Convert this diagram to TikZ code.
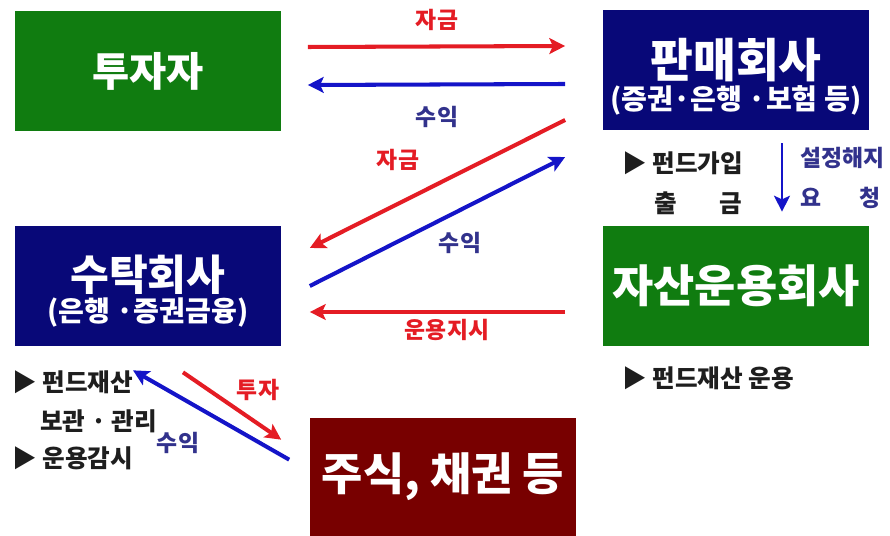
\documentclass[tikz,border=0pt]{standalone}
\usepackage{fontspec}
\newfontfamily\kr{Noto Sans CJK KR}
\usetikzlibrary{arrows.meta}
\definecolor{boxgreen}{RGB}{16,124,16}
\definecolor{boxnavy}{RGB}{8,8,120}
\definecolor{boxred}{RGB}{120,0,0}
\definecolor{arrred}{RGB}{228,28,36}
\definecolor{arrblue}{RGB}{20,20,200}
\definecolor{lblblue}{RGB}{50,50,140}
\definecolor{txtgray}{RGB}{30,30,30}
\newcommand\subtxt{\fontsize{16}{18}\selectfont}
\newcommand\titlesize[1]{\fontsize{#1}{26}\selectfont}
\tikzset{
	box/.style={minimum width=5.34cm, minimum height=2.4cm, inner sep=0pt, text=white, align=center, font=\kr\bfseries\titlesize{24}},
	flow/.style={line width=2.3pt, -{Stealth[length=9pt,width=9pt,inset=2pt]}},
	lbl/.style={font=\kr\bfseries\fontsize{13}{15}\selectfont},
	note/.style={font=\kr\bfseries\fontsize{14}{16}\selectfont, text=txtgray, anchor=west, inner sep=0pt}
}
\begin{document}
\begin{tikzpicture}[x=0.02cm, y=-0.02cm]
		\useasboundingbox (0,0) rectangle (890,536);
		% boxes
		\node [box, fill=boxgreen, font=\kr\bfseries\titlesize{23}] (inv) at (148,71) {투자자};
		\node [box, fill=boxnavy, font=\kr\bfseries\titlesize{26.5}] (sell) at (736,70) {\rule{0pt}{30pt}판매회사\\[-7.5pt]{\subtxt (증권·은행 ·보험 등)}};
		\node [box, fill=boxnavy] (trust) at (148,286) {\rule{0pt}{26pt}수탁회사\\[-8.2pt]{\subtxt (은행 ·증권금융)}};
		\node [box, fill=boxgreen, font=\kr\bfseries\titlesize{25.5}] (amc) at (736,286) {자산운용회사};
		\node [box, fill=boxred, minimum height=2.36cm, font=\kr\bfseries\titlesize{25.5}] (stock) at (443,477) {주식, 채권 등};
		% flows
		\draw [flow, arrred] ([shift={(26,-24)}]inv.east) -- ([shift={(-37,-24)}]sell.west);
		\draw [flow, arrblue] ([shift={(-37,14)}]sell.west) -- ([shift={(26,14)}]inv.east);
		\draw [flow, arrred] ([shift={(-37,50)}]sell.west) -- ([shift={(28,-38)}]trust.east);
		\draw [flow, arrblue] ([shift={(28,0)}]trust.east) -- ([shift={(-37,-129)}]amc.west);
		\draw [flow, arrred] ([shift={(-37,26)}]amc.west) -- ([shift={(28,26)}]trust.east);
		\draw [flow, arrblue, line width=1.7pt] ([shift={(46,13)}]sell.south) -- ([shift={(46,-14)}]amc.north);
		\draw [flow, arrred] ([shift={(35,26)}]trust.south) -- ([shift={(-28,22)}]stock.north west);
		\draw [flow, arrblue] ([shift={(-20,42)}]stock.north west) -- ([shift={(-15,24)}]trust.south);
		% labels
		\node [lbl, text=arrred] (l1) at (437,20) {자금};
		\node [lbl, text=lblblue] (l2) at (437,117) {수익};
		\node [lbl, text=arrred] (l3) at (398,160) {자금};
		\node [lbl, text=lblblue] (l4) at (460,243) {수익};
		\node [lbl, text=arrred] (l5) at (447,330) {운용지시};
		\node [lbl, text=lblblue, anchor=west, inner sep=0pt] (l6) at (800,158) {설정해지};
		\node [lbl, text=lblblue, anchor=west, inner sep=0pt] (l7) at (800,198) {\makebox[3.5em][s]{요\hfill 청}};
		\node [lbl, text=arrred] (l8) at (258,390) {투자};
		\node [lbl, text=lblblue] (l9) at (178,443) {수익};
		% notes
		\node [note] (n1) at (622,163) {▶ 펀드가입};
		\node [note] (n2) at (654,203) {\makebox[3.55em][s]{출\hfill 금}};
		\node [note] (n3) at (622,378) {▶ 펀드재산 운용};
		\node [note] (n4) at (12,382) {▶ 펀드재산};
		\node [note] (n5) at (40,421) {보관 · 관리};
		\node [note] (n6) at (12,458) {▶ 운용감시};
\end{tikzpicture}
\end{document}
